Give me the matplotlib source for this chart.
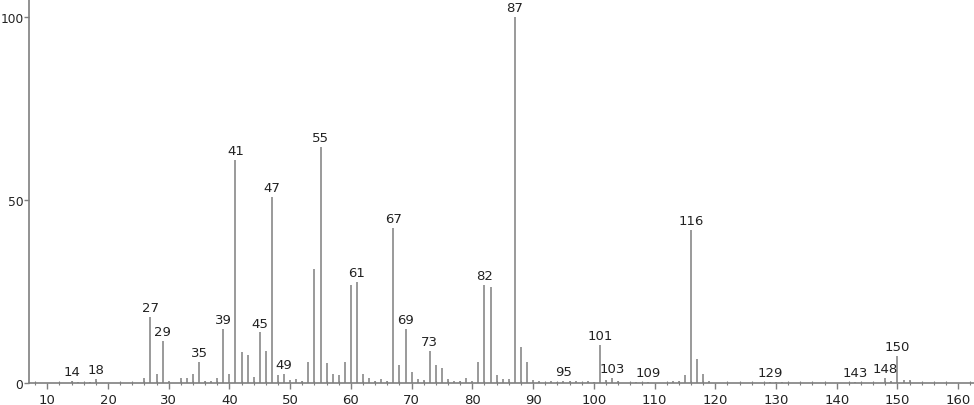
import matplotlib
matplotlib.use("Agg")
import matplotlib.pyplot as plt
from matplotlib.ticker import MultipleLocator

mz = [14, 15, 17, 18, 26, 27, 28, 29, 30, 32, 33, 34, 35, 36, 37, 38, 39, 40, 41, 42,
      43, 44, 45, 46, 47, 48, 49, 50, 51, 52, 53, 54, 55, 56, 57, 58, 59, 60, 61, 62,
      63, 64, 65, 66, 67, 68, 69, 70, 71, 72, 73, 74, 75, 76, 77, 78, 79, 80, 81, 82,
      83, 84, 85, 86, 87, 88, 89, 90, 91, 93, 94, 95, 96, 97, 99, 100, 101, 102, 103, 104,
      107, 109, 113, 114, 115, 116, 117, 118, 119, 129, 130, 131, 143, 148, 149, 150, 151, 152]
intensity = [0.5, 0.4, 0.4, 1.2, 1.5, 18.1, 2.5, 11.4, 0.6, 1.3, 1.5, 2.5, 5.7, 0.6, 0.6, 1.3, 14.7, 2.5, 61.0, 8.4,
             7.6, 1.6, 13.8, 8.8, 50.8, 2.3, 2.4, 0.8, 1.2, 0.5, 5.7, 31.1, 64.5, 5.6, 2.5, 2.2, 5.7, 26.9, 27.6, 2.5,
             1.5, 0.5, 1.2, 0.5, 42.3, 4.9, 14.8, 3.0, 1.2, 0.8, 8.7, 4.9, 4.1, 1.2, 0.5, 0.5, 1.5, 0.6, 5.7, 26.9,
             26.2, 2.3, 1.2, 1.2, 100.0, 9.9, 5.8, 0.8, 0.5, 0.5, 0.4, 0.5, 0.5, 0.5, 0.5, 0.4, 10.5, 0.9, 1.3, 0.5,
             0.3, 0.3, 0.5, 0.5, 2.2, 41.8, 6.6, 2.5, 0.6, 0.4, 0.4, 0.4, 0.3, 1.3, 0.5, 7.3, 0.7, 0.7]
labeled = [14, 18, 27, 29, 35, 39, 41, 45, 47, 49, 55, 61, 67, 69, 73, 82, 87, 95, 101, 103,
           109, 116, 129, 143, 148, 150]
x_ticks = [10, 20, 30, 40, 50, 60, 70, 80, 90, 100, 110, 120, 130, 140, 150, 160]
y_ticks = [0, 50, 100]

line_col = "#7f7f7f"
text_col = "#222222"

fig = plt.figure(figsize=(9.74, 4.06), dpi=100)
ax = fig.add_axes([29/974, 1 - 384/406, 1 - 29/974, 384/406])
ax.vlines(mz, 0, intensity, color=line_col, lw=1.1)

lookup = dict(zip(mz, intensity))
for m in labeled:
    ax.annotate(str(m), (m, lookup[m]), xytext=(0, 2), textcoords="offset points",
                ha="center", va="bottom", fontsize=9.5, color=text_col)

ax.set_xlim(7, 162.6)
ax.set_ylim(0, 104.9)
ax.set_xticks(x_ticks)
ax.xaxis.set_minor_locator(MultipleLocator(2))
ax.set_yticks(y_ticks)
ax.set_yticklabels([str(v) for v in y_ticks])
for s in ["top", "right"]:
    ax.spines[s].set_visible(False)
for s in ["left", "bottom"]:
    ax.spines[s].set_color(line_col)
    ax.spines[s].set_linewidth(1.2)
ax.tick_params(axis="x", which="major", direction="out", length=4, width=1, color=line_col,
               labelsize=9.5, labelcolor=text_col, pad=3)
ax.tick_params(axis="x", which="minor", direction="inout", length=3, width=0.8, color=line_col)
ax.tick_params(axis="y", which="major", direction="out", length=3.5, width=1, color=line_col,
               labelsize=8.8, labelcolor=text_col, pad=0.5)
ax.patch.set_alpha(0)
fig.savefig("out.png", dpi=100)
